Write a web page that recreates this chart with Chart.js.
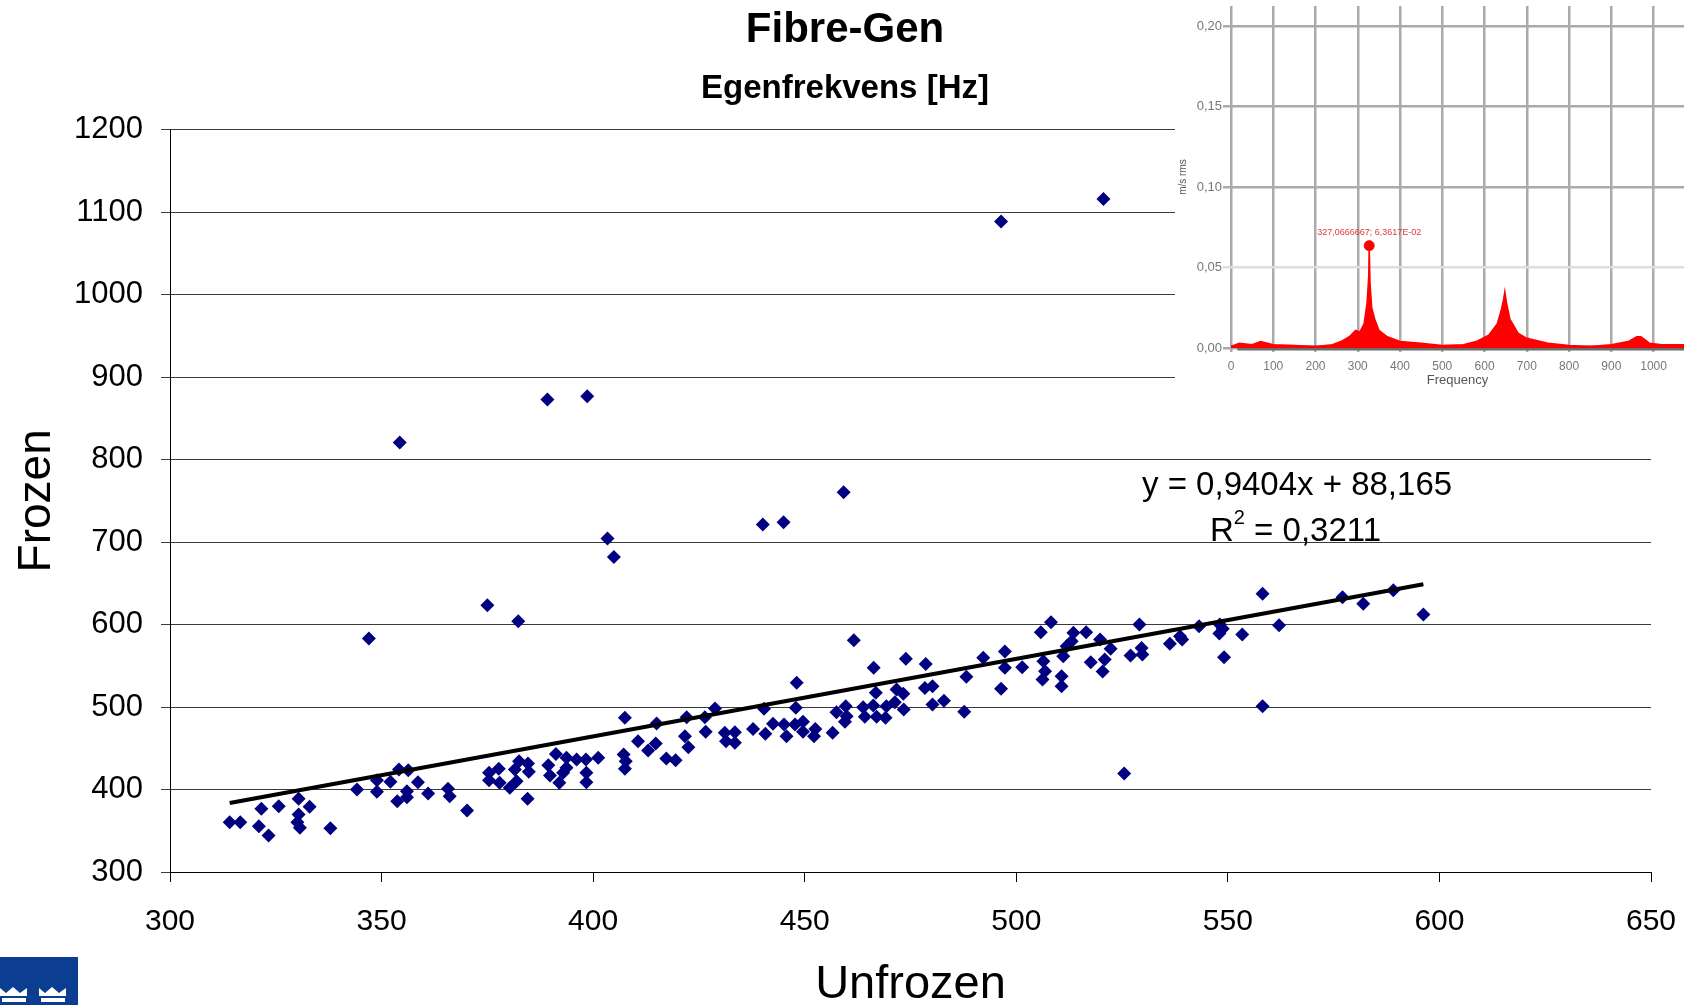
<!DOCTYPE html>
<html>
<head>
<meta charset="utf-8">
<title>Fibre-Gen</title>
<script src="https://cdn.jsdelivr.net/npm/chart.js@4.4.1/dist/chart.umd.min.js"></script>
<style>
  body { margin: 0; background: #fff; }
  #wrap { position: relative; width: 1690px; height: 1005px; overflow: hidden; }
  #main { position: absolute; left: 0; top: 0; }
  #inset { position: absolute; left: 1175px; top: 0; width: 515px; height: 390px; background: #fff; }
  #logo { position: absolute; left: 0; top: 957px; }
</style>
</head>
<body>
<div id="wrap">
  <canvas id="main" width="1690" height="1005"></canvas>
  <div id="inset"><canvas id="spec" width="515" height="390"></canvas></div>
  <svg id="logo" width="78" height="48">
    <rect width="78" height="48" fill="#0b3d91"/>
    <polygon points="0,39 0,31 6,36 13,30 20,36 27,31 27,39" fill="#fff"/>
    <rect x="2" y="41" width="24" height="4" fill="#fff"/>
    <polygon points="39,39 39,31 45,36 52,30 59,36 66,31 66,39" fill="#fff"/>
    <rect x="41" y="41" width="24" height="4" fill="#fff"/>
  </svg>
</div>

<script>
console.log("chart start");

/* ================= DATA ================= */
// main scatter: unfrozen vs frozen eigenfrequency [Hz]
const unfrozen = [
  314.1, 316.6, 321.6, 321.0, 323.3, 325.7, 330.4, 333.0, 330.4, 330.1, 330.7, 337.9,
  344.2, 348.9, 348.9, 352.1, 354.1, 356.3, 353.7, 356.0, 356.0, 358.6, 361.0, 365.7,
  366.1, 370.2, 384.5, 375.4, 377.7, 375.4, 377.9, 380.3, 381.9, 381.5, 382.5, 384.6,
  384.8, 389.4, 389.8, 391.2, 392.0, 392.9, 393.7, 393.7, 396.1, 398.3, 398.4, 398.4,
  401.2,
  407.5, 407.2, 407.7, 407.5, 410.6, 413.0, 414.8, 415.0, 417.3, 419.5, 421.7, 422.1,
  422.5, 426.6, 426.4, 428.8, 431.1, 431.4, 433.5, 433.5, 437.8, 440.4, 440.7, 442.5,
  445.1, 445.7, 448.1, 447.9, 447.7, 449.6, 449.6, 452.5, 452.2, 456.6, 457.5, 459.7,
  459.9, 459.5, 461.6, 463.8, 464.2, 466.3, 466.8, 467.0, 466.2, 469.3, 469.1, 471.3,
  471.7, 473.3, 473.4, 473.9, 478.6, 478.4, 480.2, 480.2, 482.9, 487.7, 488.2, 492.2,
  496.4, 497.3, 497.3, 501.4, 505.8, 508.2, 506.4, 506.8, 506.2, 510.7, 510.7, 511.1,
  511.9,
  513.5, 513.1, 516.5, 517.6, 519.8, 520.9, 520.4, 522.3, 525.5, 527.0, 529.1, 529.6,
  529.8, 536.3, 538.7, 539.2, 543.2, 548.1, 548.0, 548.8, 549.1, 553.4, 558.2, 558.2,
  562.1, 577.1, 582.0, 589.1, 596.2,
  496.4, 520.6, 389.2, 398.6, 354.3, 403.4, 404.9, 440.1, 445.0, 459.2, 375.0, 382.3,
  347.0
];
const frozen = [
  360.4, 360.4, 376.6, 355.6, 344.3, 379.8, 388.7, 379.0, 369.7, 360.4, 353.5, 353.1,
  400.0, 411.3, 397.2, 409.3, 424.3, 423.5, 385.9, 398.0, 390.7, 408.9, 395.2, 400.8,
  391.9, 374.6, 388.7, 420.2, 425.1, 411.3, 408.1, 402.0, 410.1, 424.3, 434.4, 431.5,
  421.4, 429.5, 417.0, 443.2, 408.1, 420.2, 438.4, 426.3, 436.4, 436.4, 420.2, 408.9,
  438.4,
  486.9, 442.4, 434.4, 425.1, 458.6, 447.3, 455.8, 480.0, 437.6, 435.6, 464.7, 487.7,
  451.3, 469.9, 487.7, 498.2, 468.7, 458.6, 469.5, 456.6, 473.5, 497.8, 467.5, 479.6,
  478.8, 464.7, 529.3, 499.0, 478.8, 482.0, 469.9, 473.5, 464.7, 468.7, 493.7, 501.0,
  488.9, 482.0, 581.0, 499.8, 488.1, 547.5, 517.2, 488.1, 501.8, 501.0, 486.9, 505.9,
  521.2, 516.0, 497.0, 558.4, 552.3, 523.2, 525.3, 503.0, 507.5, 494.2, 536.6, 559.6,
  522.0, 567.3, 547.5, 548.3, 590.7, 602.8, 555.6, 543.5, 533.3, 537.4, 525.3, 561.6,
  573.8,
  589.9, 579.8, 590.7, 554.4, 581.8, 557.6, 543.1, 570.5, 419.4, 562.4, 600.0, 571.7,
  563.6, 576.6, 585.9, 581.8, 598.0, 600.0, 589.1, 594.8, 560.4, 587.9, 637.2, 501.0,
  599.2, 633.1, 625.1, 641.6, 612.1,
  1088.5, 1115.9, 872.9, 876.8, 820.6, 704.4, 682.0, 721.3, 724.0, 760.5, 623.4, 604.1,
  583.0
];

// linear trendline as printed on the chart
const trendSlope = 0.9404;
const trendIntercept = 88.165;
const trendLabel = "y = 0,9404x + 88,165";
const r2Label = "0,3211";

// axes
const xMin = 300, xMax = 650, xStep = 50;
const yMin = 300, yMax = 1200, yStep = 100;

// inset spectrum (screenshot in the corner)
const specFreq = [0, 20, 50, 70, 100, 150, 200, 240, 260, 280, 295, 305, 315, 322, 326, 327,
  329, 333, 340, 350, 370, 400, 450, 500, 550, 580, 610, 630, 640, 645, 648, 652, 660, 680,
  700, 750, 800, 850, 900, 940, 960, 970, 990, 1020, 1072];
const specAmp = [0.001, 0.003, 0.002, 0.004, 0.002, 0.0015, 0.001, 0.002, 0.004, 0.007,
  0.011, 0.010, 0.015, 0.028, 0.045, 0.0636, 0.040, 0.025, 0.018, 0.011, 0.007, 0.004, 0.003,
  0.0015, 0.002, 0.004, 0.008, 0.015, 0.024, 0.030, 0.035, 0.028, 0.018, 0.009, 0.006, 0.003,
  0.0015, 0.001, 0.002, 0.004, 0.007, 0.007, 0.003, 0.002, 0.002];
const peakFreq = 327;
const peakAmp = 0.0636;
const peakLabel = "327,0666667; 6,3617E-02";

/* ================= HELPERS ================= */
const FONT = "'Liberation Sans', Arial, Helvetica, sans-serif";
Chart.defaults.font.family = FONT;
Chart.defaults.color = "#000";

// pin an axis to a fixed size and drop the label overhang padding
function fixSize(size) {
  return (s) => {
    if (s.isHorizontal()) s.height = size;
    else s.width = size;
    s.paddingLeft = 0;
    s.paddingRight = 0;
    s.paddingTop = 0;
    s.paddingBottom = 0;
  };
}

const points = unfrozen.map((x, i) => ({ x, y: frozen[i] }));
const tx0 = Math.min(...unfrozen);
const tx1 = Math.max(...unfrozen);
const trendPoints = [tx0, tx1].map(x => ({ x, y: trendSlope * x + trendIntercept }));

/* ================= EQUATION TEXT ================= */
const equationPlugin = {
  id: "equation",
  afterDraw(chart) {
    const ctx = chart.ctx;
    ctx.save();
    ctx.fillStyle = "#000";
    ctx.textBaseline = "middle";
    ctx.textAlign = "left";
    ctx.font = `33px ${FONT}`;
    ctx.fillText(trendLabel, 1142, 486);

    let x = 1210;
    ctx.fillText("R", x, 532);
    x += ctx.measureText("R").width;
    ctx.font = `20px ${FONT}`;
    ctx.fillText("2", x, 518);
    x += ctx.measureText("2").width;
    ctx.font = `33px ${FONT}`;
    ctx.fillText(" = " + r2Label, x, 532);
    ctx.restore();
  }
};

/* ================= MAIN CHART ================= */
new Chart(document.getElementById("main"), {
  type: "scatter",
  data: {
    datasets: [
      {
        label: "Trend",
        type: "line",
        data: trendPoints,
        borderColor: "#000",
        borderWidth: 4,
        pointRadius: 0,
        fill: false,
        order: 0
      },
      {
        label: "Egenfrekvens",
        data: points,
        pointStyle: "rectRot",
        pointRadius: 7,
        backgroundColor: "#000080",
        borderColor: "#000080",
        borderWidth: 0,
        order: 1
      }
    ]
  },
  options: {
    responsive: false,
    animation: false,
    events: [],
    layout: { padding: { left: 39, right: 39, top: 0, bottom: 0 } },
    plugins: {
      legend: { display: false },
      tooltip: { enabled: false },
      title: {
        display: true,
        text: "Fibre-Gen",
        color: "#000",
        font: { size: 42, weight: "bold" },
        padding: { top: 5, bottom: 10.6 }
      },
      subtitle: {
        display: true,
        text: "Egenfrekvens [Hz]",
        color: "#000",
        font: { size: 33, weight: "bold" },
        padding: { top: 3, bottom: 21 }
      }
    },
    scales: {
      x: {
        type: "linear",
        min: xMin,
        max: xMax,
        ticks: { stepSize: xStep, color: "#000", font: { size: 30 }, padding: 22, maxRotation: 0 },
        grid: { drawOnChartArea: false, tickLength: 10, color: "#000" },
        border: { color: "#000" },
        title: { display: true, text: "Unfrozen", color: "#000", font: { size: 47 }, padding: { top: 0, bottom: -8 } },
        afterFit: fixSize(133)
      },
      y: {
        type: "linear",
        min: yMin,
        max: yMax,
        ticks: { stepSize: yStep, color: "#000", font: { size: 31 }, padding: 18, callback: v => String(v) },
        grid: { color: "#3a3a3a", tickLength: 9 },
        border: { color: "#000" },
        title: { display: true, text: "Frozen", color: "#000", font: { size: 46 }, padding: { top: -29, bottom: 0 } },
        afterFit: fixSize(131)
      }
    }
  },
  plugins: [equationPlugin]
});

/* ================= INSET SPECTRUM ================= */
const peakLabelPlugin = {
  id: "peakLabel",
  afterDatasetsDraw(chart) {
    const ctx = chart.ctx;
    const px = chart.scales.x.getPixelForValue(peakFreq);
    const py = chart.scales.y.getPixelForValue(peakAmp);
    ctx.save();
    ctx.fillStyle = "#e23a3a";
    ctx.font = `9px ${FONT}`;
    ctx.textAlign = "center";
    ctx.textBaseline = "middle";
    ctx.fillText(peakLabel, px, py - 13);
    ctx.restore();
  }
};

new Chart(document.getElementById("spec"), {
  type: "line",
  data: {
    datasets: [
      {
        data: specFreq.map((f, i) => ({ x: f, y: specAmp[i] })),
        borderColor: "#ff0000",
        backgroundColor: "#ff0000",
        borderWidth: 1.5,
        pointRadius: 0,
        fill: "origin",
        tension: 0
      },
      {
        type: "scatter",
        data: [{ x: peakFreq, y: peakAmp }],
        pointRadius: 5,
        backgroundColor: "#ff0000",
        borderColor: "#ff0000"
      },
      {
        data: [{ x: 15, y: 0 }, { x: 1072, y: 0 }],
        borderColor: "#6b6b6b",
        borderWidth: 5,
        pointRadius: 0,
        clip: false
      }
    ]
  },
  options: {
    responsive: false,
    animation: false,
    events: [],
    layout: { padding: 0 },
    plugins: { legend: { display: false }, tooltip: { enabled: false } },
    scales: {
      x: {
        type: "linear",
        min: 0,
        max: 1072,
        ticks: {
          stepSize: 100,
          includeBounds: false,
          color: "#777",
          font: { size: 12 },
          padding: 7,
          maxRotation: 0,
          autoSkip: false,
          callback: v => String(v)
        },
        grid: { color: "#aaaaaa", lineWidth: 2.5, tickLength: 4 },
        border: { display: false },
        title: { display: true, text: "Frequency", color: "#555", font: { size: 13 }, padding: { top: 0, bottom: 2 } },
        afterFit: fixSize(42)
      },
      y: {
        type: "linear",
        min: 0,
        max: 0.2125,
        ticks: {
          stepSize: 0.05,
          includeBounds: false,
          color: "#777",
          font: { size: 13 },
          padding: 1,
          callback: v => v.toFixed(2).replace(".", ",")
        },
        grid: {
          color: c => (Math.abs(c.tick.value - 0.05) < 1e-6 ? "#dedede" : "#aaaaaa"),
          lineWidth: 2.5,
          tickLength: 8
        },
        border: { display: false },
        title: { display: true, text: "m/s rms", color: "#555", font: { size: 10 }, padding: { top: 2, bottom: 0 } },
        afterFit: fixSize(56)
      }
    }
  },
  plugins: [peakLabelPlugin]
});
</script>
</body>
</html>
